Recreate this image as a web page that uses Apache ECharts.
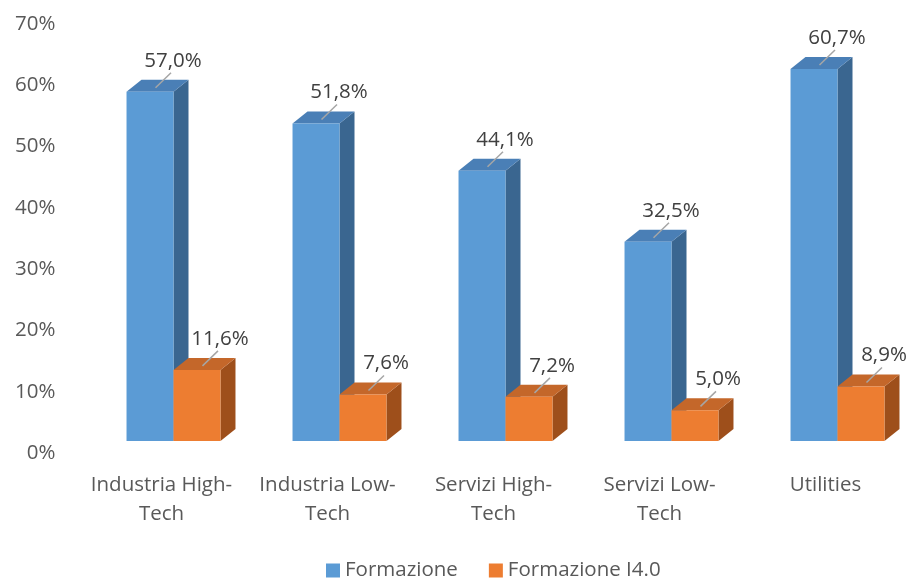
<!DOCTYPE html>
<html>
<head>
<meta charset="utf-8">
<script src="https://cdn.jsdelivr.net/npm/echarts@6/dist/echarts.min.js"></script>
<style>html,body{margin:0;padding:0;background:#fff}#c{width:918px;height:580px}</style>
</head>
<body>
<div id="c"></div>
<script>
const categories = ['Industria High-\nTech', 'Industria Low-\nTech', 'Servizi High-\nTech', 'Servizi Low-\nTech', 'Utilities'];
const formazione = [57.0, 51.8, 44.1, 32.5, 60.7];
const formazioneI40 = [11.6, 7.6, 7.2, 5.0, 8.9];
const yTicks = [0, 10, 20, 30, 40, 50, 60, 70];

const FONT = "'Open Sans', 'Noto Sans', sans-serif";
const chart = echarts.init(document.getElementById('c'));

function fmt(v) { return v.toFixed(1).replace('.', ',') + '%'; }

function makeRender(side, colors) {
  return function (params, api) {
    const idx = api.value(0);
    const val = api.value(1);
    const band = api.size([1, 0])[0];
    const barW = band * 0.283;
    const shiftX = 12, shiftY = -12;
    const dx = 15, dy = 12;
    const top = api.coord([idx, val]);
    const base = api.coord([idx, 0]);
    const cx = top[0] + shiftX;
    const x0 = side === 0 ? cx - barW : cx;
    const x1 = x0 + barW;
    const yT = top[1] + shiftY;
    const yB = base[1] + shiftY;
    const children = [
      { type: 'polygon', shape: { points: [[x1, yT], [x1 + dx, yT - dy], [x1 + dx, yB - dy], [x1, yB]] }, style: { fill: colors[2] } },
      { type: 'polygon', shape: { points: [[x0, yT], [x0 + dx, yT - dy], [x1 + dx, yT - dy], [x1, yT]] }, style: { fill: colors[1] } },
      { type: 'rect', shape: { x: x0, y: yT, width: barW, height: yB - yT }, style: { fill: colors[0] } }
    ];
    const mx = (x0 + x1) / 2;
    const tcx = mx + dx / 2, tcy = yT - dy / 2;
    const lx = mx + 23, ly = yT - 31;
    children.push({ type: 'line', shape: { x1: tcx - 2, y1: tcy + 2, x2: lx - 2, y2: ly + 12 }, style: { stroke: '#a6a6a6', lineWidth: 1.5 } });
    children.push({ type: 'text', style: { x: lx, y: ly, text: fmt(val), fill: '#404040', font: '20.5px ' + FONT, align: 'center', verticalAlign: 'middle', backgroundColor: '#fff' } });
    return { type: 'group', children: children };
  };
}

const blueCols = ['#5B9BD5', '#4A7FB6', '#3A6690'];
const orangeCols = ['#ED7D31', '#C4672A', '#9E4F1B'];

chart.setOption({
  animation: false,
  backgroundColor: '#fff',
  grid: { left: 78.5, right: 9.5, top: 24, bottom: 127 },
  legend: {
    top: 560, left: 326, itemWidth: 14, itemHeight: 14, itemGap: 31, icon: 'rect', padding: 0,
    textStyle: { fontFamily: FONT, fontSize: 20.5, color: '#595959' },
    data: ['Formazione', 'Formazione I4.0']
  },
  xAxis: {
    type: 'category', data: categories,
    axisLine: { show: false }, axisTick: { show: false },
    axisLabel: { margin: 18, fontFamily: FONT, fontSize: 20.5, color: '#595959', lineHeight: 29, interval: 0 }
  },
  yAxis: {
    type: 'value', min: yTicks[0], max: yTicks[yTicks.length - 1], interval: 10,
    splitLine: { show: false }, axisLine: { show: false }, axisTick: { show: false },
    axisLabel: { margin: 23, fontFamily: FONT, fontSize: 20.5, color: '#595959', formatter: v => v + '%' }
  },
  series: [
    { name: 'Formazione', type: 'custom', itemStyle: { color: blueCols[0] }, clip: false,
      renderItem: makeRender(0, blueCols), encode: { x: 0, y: 1 },
      data: formazione.map((v, i) => [i, v]) },
    { name: 'Formazione I4.0', type: 'custom', itemStyle: { color: orangeCols[0] }, clip: false,
      renderItem: makeRender(1, orangeCols), encode: { x: 0, y: 1 },
      data: formazioneI40.map((v, i) => [i, v]) }
  ]
});
</script>
</body>
</html>
